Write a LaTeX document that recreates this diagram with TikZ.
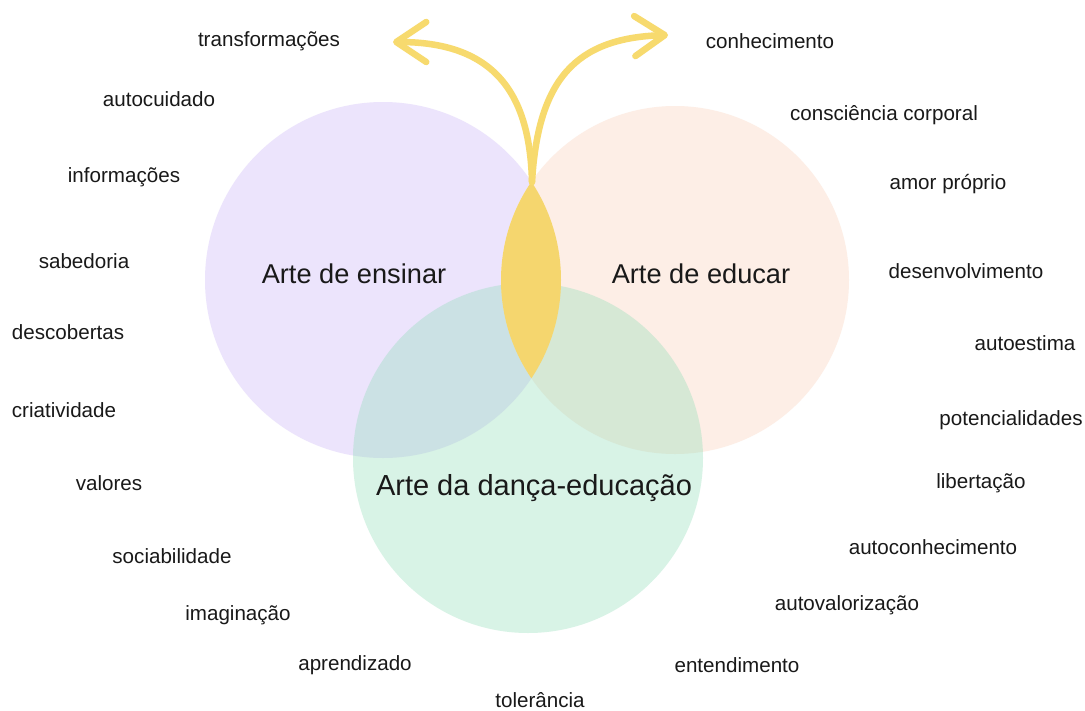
\documentclass[tikz,border=0pt]{standalone}
\usepackage{fontspec}
\setmainfont{Liberation Sans}
\usetikzlibrary{arrows.meta}
\definecolor{purp}{RGB}{236,228,252}
\definecolor{peach}{RGB}{253,238,230}
\definecolor{grn}{RGB}{144,221,184}
\definecolor{lens}{RGB}{245,214,110}
\definecolor{arr}{RGB}{247,218,110}
\definecolor{txt}{RGB}{25,25,25}
\tikzset{
  lbl/.style={font=\fontsize{20.6}{24}\selectfont, text=txt, inner sep=0pt},
  ttl/.style={font=\fontsize{27.2}{32}\selectfont, text=txt, inner sep=0pt},
  yarrow/.style={draw=arr, line width=6.5pt, line cap=round,
     -{Straight Barb[length=30pt, width=40pt, line cap=round, line join=round]}}
}
\begin{document}
\begin{tikzpicture}[x=1pt,y=-1pt]
\useasboundingbox (0,0) rectangle (1085,710);
\fill[white] (0,0) rectangle (1085,710);
% circles
\fill[purp] (383,280) circle (178);
\fill[peach] (675,280) circle (174);
\fill[grn, fill opacity=0.35] (528,458) circle (175);
% lens
\begin{scope}
  \clip (383,280) circle (178);
  \fill[lens] (675,280) circle (174);
\end{scope}
% arrows
\coordinate (root) at (532,182);
\coordinate (tl) at (393,42);
\coordinate (tr) at (668,35);
\draw[yarrow] (root) .. controls (530,100) and (500,42) .. (tl);
\draw[yarrow] (root) .. controls (538,80) and (575,38) .. (tr);
% titles
\node[ttl] (ens) at (354,274) {Arte de ensinar};
\node[ttl] (edu) at (701,274) {Arte de educar};
\node[ttl, font=\fontsize{29}{34}\selectfont] (dan) at (534,488) {Arte da dança-educação};
% labels
\node[lbl] (l1) at (269,41) {transformações};
\node[lbl] (l2) at (159,99) {autocuidado};
\node[lbl] (l3) at (124,177) {informações};
\node[lbl] (l4) at (84,261) {sabedoria};
\node[lbl] (l5) at (68,332) {descobertas};
\node[lbl] (l6) at (64,410) {criatividade};
\node[lbl] (l7) at (109,483) {valores};
\node[lbl] (l8) at (172,556) {sociabilidade};
\node[lbl] (l9) at (238,615) {imaginação};
\node[lbl] (l10) at (355,665) {aprendizado};
\node[lbl] (l11) at (540,700) {tolerância};
\node[lbl] (r1) at (737,665) {entendimento};
\node[lbl] (r2) at (847,605) {autovalorização};
\node[lbl] (r3) at (933,547) {autoconhecimento};
\node[lbl] (r4) at (981,483) {libertação};
\node[lbl] (r5) at (1011,420) {potencialidades};
\node[lbl] (r6) at (1025,343) {autoestima};
\node[lbl] (r7) at (966,271) {desenvolvimento};
\node[lbl] (r8) at (948,184) {amor próprio};
\node[lbl] (r9) at (884,115) {consciência corporal};
\node[lbl] (r10) at (770,41) {conhecimento};
\end{tikzpicture}
\end{document}
